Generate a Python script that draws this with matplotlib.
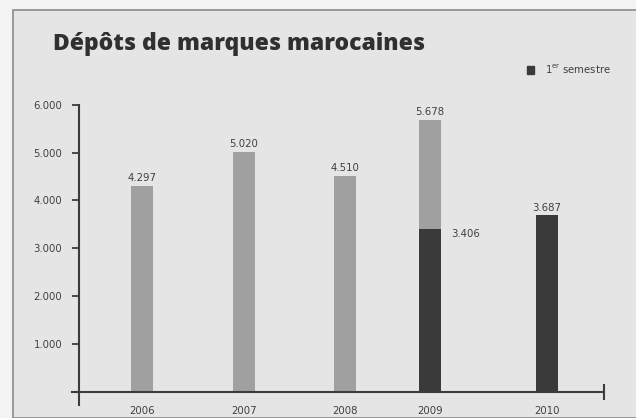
import numpy as np
import matplotlib
matplotlib.use("Agg")
import matplotlib.pyplot as plt
from matplotlib.patches import Rectangle, Patch

# data
years = ['2006', '2007', '2008', '2009', '2010']
totals = [4297, 5020, 4510, 5678, 3687]
first_half = [0, 0, 0, 3406, 3687]          # 1er semestre
total_labels = ['4.297', '5.020', '4.510', '5.678', '3.687']
half_label = '3.406'
yticks = [1000, 2000, 3000, 4000, 5000, 6000]
ytick_labels = ['1.000', '2.000', '3.000', '4.000', '5.000', '6.000']

# layout (pixel-ish positions along the axis, bars not evenly spaced)
x_pos = [70, 172, 273, 358, 475]
bar_w = 22
light = '#a0a0a0'
dark = '#3a3a3a'
axis_col = '#3c3c3c'
txt_col = '#404040'
small = 7.3

plt.rcParams['font.family'] = ['DejaVu Sans']

fig = plt.figure(figsize=(6.36, 4.18), dpi=100)
fig.patch.set_facecolor('#f3f3f3')
fig.patches.append(Rectangle((13/636, 0), 1, 1 - 10/418, transform=fig.transFigure,
                             facecolor='#e5e5e5', edgecolor='#8a8a8a', linewidth=1.2,
                             zorder=-5))

ax = fig.add_axes([72/636, 13/418, 532/636, 305/418])
ax.patch.set_alpha(0)

# light part = total minus first half (stacked on dark part)
rest = [t - h for t, h in zip(totals, first_half)]
ax.bar(x_pos, first_half, width=bar_w, color=dark, zorder=2)
ax.bar(x_pos, rest, width=bar_w, bottom=first_half, color=light, zorder=2)

for x, t, lab in zip(x_pos, totals, total_labels):
    ax.annotate(lab, (x, t), xytext=(0, 2), textcoords='offset points',
                ha='center', va='bottom', fontsize=small, color=txt_col)
ax.annotate(half_label, (x_pos[3] + bar_w/2, first_half[3]), xytext=(7, -4),
            textcoords='offset points', ha='left', va='center', fontsize=small, color=txt_col)

ax.set_xlim(0, 532)
ax.set_ylim(-280, 6100)

for s in ['top', 'right']:
    ax.spines[s].set_visible(False)
ax.spines['left'].set_position(('data', 7))
ax.spines['left'].set_bounds(-280, 6000)
ax.spines['bottom'].set_position(('data', 0))
for s in ['left', 'bottom']:
    ax.spines[s].set_color(axis_col)
    ax.spines[s].set_linewidth(1.5)

ax.set_yticks(yticks)
ax.set_yticklabels(ytick_labels)
ax.tick_params(axis='y', direction='out', length=5, width=1.3, color=axis_col,
               pad=7, labelsize=small, labelcolor=txt_col)

ax.set_xticks(x_pos)
ax.set_xticklabels(years)
ax.tick_params(axis='x', length=0, pad=10, labelsize=small, labelcolor=txt_col)
ax.set_xticks([532], minor=True)
ax.tick_params(axis='x', which='minor', direction='inout', length=11, width=1.5, color=axis_col)

ax.legend(handles=[Patch(color=dark, label='1$^{\\mathrm{er}}$ semestre')], loc='center left',
          bbox_to_anchor=(527/636, 1 - 69/418), bbox_transform=fig.transFigure,
          frameon=False, handlelength=0.7, handleheight=0.7, handletextpad=1.1,
          borderpad=0, borderaxespad=0, fontsize=small, labelcolor=txt_col)

fig.text(53/636, 1 - 50/418, 'Dépôts de marques marocaines', fontsize=16.5,
         fontweight='heavy', family=['Open Sans', 'DejaVu Sans'],
         color='#303030', va='baseline', ha='left')

fig.savefig('out.png', dpi=100, facecolor=fig.get_facecolor())
